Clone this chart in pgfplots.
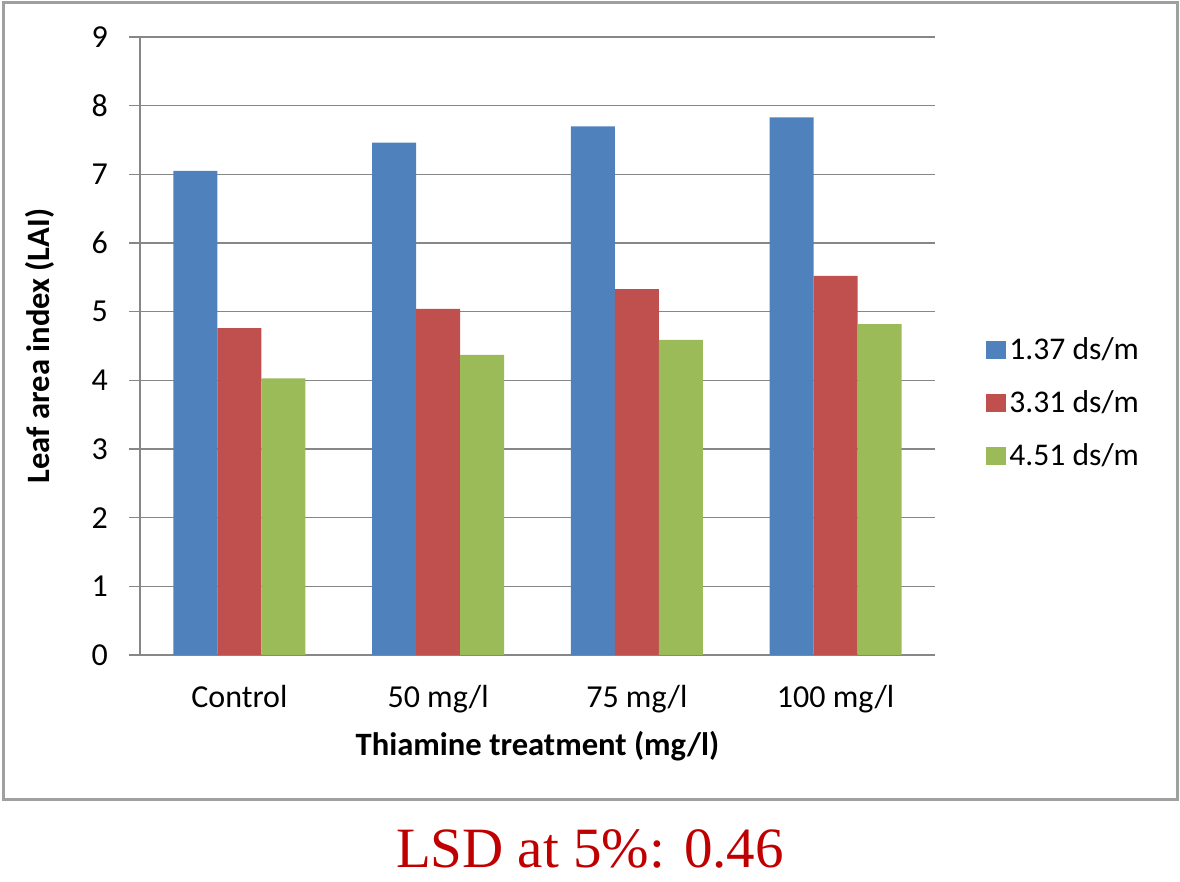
\documentclass[border=0pt]{standalone}
\usepackage{pgfplots}
\pgfplotsset{compat=1.18}
\usepackage{fontspec}
\setmainfont{Carlito}
\newfontfamily\timesf{Liberation Serif}
\definecolor{cblue}{HTML}{4F81BD}
\definecolor{cred}{HTML}{C0504D}
\definecolor{cgreen}{HTML}{9BBB59}
\definecolor{cgrid}{HTML}{878787}
\definecolor{cframe}{HTML}{A0A0A0}
\definecolor{lsd}{HTML}{C00000}
\begin{document}
\begin{tikzpicture}
\useasboundingbox (0,0) rectangle (590pt,441pt);
\draw[line width=1.5pt, color=cframe] (1.5pt,41pt) rectangle (588.5pt,439.5pt);
\begin{axis}[
  at={(70pt,113.5pt)}, anchor=south west,
  scale only axis, width=397.5pt, height=309pt,
  xmin=-0.5, xmax=3.5, ymin=0, ymax=9,
  ybar=0pt, bar width=22pt,
  xtick={0,1,2,3},
  xticklabels={Control, 50 mg/l, 75 mg/l, 100 mg/l},
  ytick={0,1,...,9},
  axis x line*=bottom, axis y line*=left,
  axis line style={draw=cgrid, line width=0.8pt, -},
  tick align=outside,
  major tick length=5.5pt,
  major tick style={draw=cgrid, line width=0.8pt},
  x tick style={draw=none},
  ymajorgrids,
  grid style={draw=cgrid, line width=0.8pt},
  /pgf/number format/assume math mode=true,
  tick label style={font=\fontsize{16}{19}\selectfont, text=black},
  xticklabel style={yshift=-6pt},
  yticklabel style={xshift=-7pt},
  xlabel={\textbf{Thiamine treatment (mg/l)}},
  ylabel={\textbf{Leaf area index (LAI)}},
  label style={font=\fontsize{16.3}{19}\selectfont},
  xlabel style={at={(axis description cs:0.5,-0.1472)}, anchor=center},
  ylabel style={at={(axis description cs:-0.1258,0.5)}, anchor=center},
  legend style={at={(axis description cs:1.0566,0.4078)}, anchor=west,
    draw=none, fill=none, font=\fontsize{15.8}{18}\selectfont,
    row sep=11pt, nodes={inner sep=1.5pt}},
  legend cell align=left,
  legend image code/.code={\fill[#1] (0pt,-4.5pt) rectangle (10pt,4.5pt);},
]
\addplot[fill=cblue, draw=none] coordinates {(0,7.05) (1,7.46) (2,7.70) (3,7.83)};
\addplot[fill=cred, draw=none] coordinates {(0,4.76) (1,5.04) (2,5.33) (3,5.52)};
\addplot[fill=cgreen, draw=none] coordinates {(0,4.03) (1,4.37) (2,4.59) (3,4.82)};
\legend{1.37 ds/m, 3.31 ds/m, 4.51 ds/m}
\end{axis}
\node[anchor=base, inner sep=0pt, text=lsd, font=\timesf\fontsize{28.5}{34}\selectfont] at (295pt,7pt) {LSD at 5\%: 0.46};
\end{tikzpicture}
\end{document}
